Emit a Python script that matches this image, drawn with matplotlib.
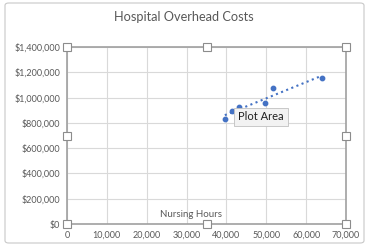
import matplotlib.pyplot as plt
import numpy as np
from matplotlib.patches import FancyBboxPatch

plt.rcParams['font.family'] = ['Lato', 'DejaVu Sans']

# data
hours = [39600, 41300, 43200, 49800, 51800, 63900]
costs = [828000, 894000, 923000, 959000, 1073000, 1155000]
xticks = [0, 10000, 20000, 30000, 40000, 50000, 60000, 70000]
yticks = [0, 200000, 400000, 600000, 800000, 1000000, 1200000, 1400000]

grey = '#595959'
blue = '#4472C4'

fig = plt.figure(figsize=(3.68, 2.47), dpi=100)
fig.patch.set_facecolor('white')

# chart area border
fig.patches.append(FancyBboxPatch((5/368, 4/247), 359/368, 240/247,
                                  boxstyle='round,pad=0,rounding_size=0.01',
                                  transform=fig.transFigure, fc='none',
                                  ec='#c8c8c8', lw=0.8))

ax = fig.add_axes([67/368, 23/247, 279/368, 177/247])
ax.scatter(hours, costs, s=10, color=blue, zorder=3)

# linear trendline
m, b = np.polyfit(hours, costs, 1)
tx = np.array([min(hours), max(hours)])
ax.plot(tx, m * tx + b, ':', color=blue, lw=1.5, zorder=2)

ax.set_xlim(0, 70000)
ax.set_ylim(0, 1400000)
ax.set_xticks(xticks)
ax.set_yticks(yticks)
ax.set_xticklabels([f'{v:,}' for v in xticks])
ax.set_yticklabels([f'${v:,}' for v in yticks])
ax.tick_params(length=0, labelsize=6.5, colors=grey, pad=5)
ax.grid(True, color='#d9d9d9', lw=0.8)
ax.set_axisbelow(True)
for s in ax.spines.values():
    s.set_color('#a0a0a0')
    s.set_linewidth(1.2)

ax.text(0.445, 0.03, 'Nursing Hours', transform=ax.transAxes, ha='center',
        va='bottom', fontsize=7, color=grey)
fig.text(0.5, 1 - 17/247, 'Hospital Overhead Costs', ha='center', va='center',
         fontsize=9.2, color=grey)

# selection handles on the plot area
for hx in (0, 0.5, 1):
    for hy in (0, 0.5, 1):
        if hx == 0.5 and hy == 0.5:
            continue
        ax.plot(hx, hy, 's', ms=6, mfc='white', mec='#8c8c8c', mew=0.8,
                transform=ax.transAxes, clip_on=False, zorder=5)

# "Plot Area" tooltip
fig.text(238/368, 1 - 117/247, 'Plot Area', ha='left', va='center',
         fontsize=8, color='#202020',
         bbox=dict(boxstyle='square,pad=0.35', fc='#f2f2f2', ec='#c0c0c0', lw=0.6))

fig.savefig('out.png', dpi=100)
